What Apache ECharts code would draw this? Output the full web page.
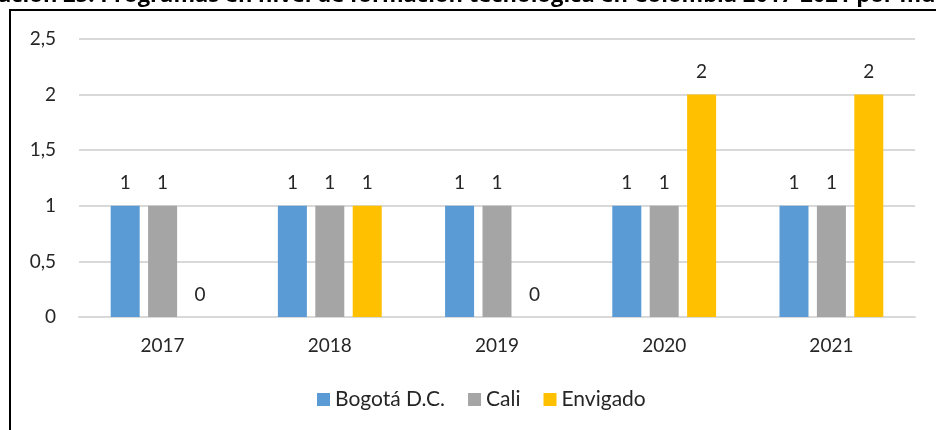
<!DOCTYPE html>
<html>
<head>
<meta charset="utf-8">
<script src="https://cdn.jsdelivr.net/npm/echarts@6/dist/echarts.min.js"></script>
<style>
html, body { margin: 0; padding: 0; background: #ffffff; }
#box { width: 936px; height: 430px; }
</style>
</head>
<body>
<div id="box"></div>
<script>
// datos
const years = ["2017", "2018", "2019", "2020", "2021"]
const bogota = [1, 1, 1, 1, 1]
const cali = [1, 1, 1, 1, 1]
const envigado = [0, 1, 0, 2, 2]
const seriesNames = ["Bogotá D.C.", "Cali", "Envigado"]
const titleText = "ación 25. Programas en nivel de formación tecnológica en Colombia 2017-2021 por mu"

const font = "Lato, 'Open Sans', sans-serif"

function barSeries(name, data) {
	return {
		name: name,
		type: "bar",
		data: data,
		barWidth: 29,
		barGap: "29%",
		label: {
			show: true,
			position: "top",
			distance: 13,
			fontSize: 19,
			fontFamily: font,
			color: "#262626",
		},
	}
}

let myCharts = echarts.init(document.getElementById("box"))
let option = {
	animation: false,
	color: ["#5B9BD5", "#A5A5A5", "#FFC000"],
	graphic: [
		{
			type: "text",
			left: -2,
			top: -15,
			style: {
				text: titleText,
				font: "bold 22px 'Open Sans', sans-serif",
				fill: "#000000",
			},
		},
		{
			type: "rect",
			shape: { x: 10, y: 10, width: 940, height: 440 },
			style: { fill: "none", stroke: "#000000", lineWidth: 2 },
		},
	],
	legend: {
		left: 312,
		top: 384,
		itemWidth: 13,
		itemHeight: 13,
		itemGap: 23,
		icon: "rect",
		textStyle: {
			fontSize: 21,
			fontFamily: font,
			color: "#262626",
		},
		data: seriesNames,
	},
	grid: {
		left: 79,
		right: 21,
		top: 39,
		bottom: 113,
	},
	xAxis: {
		type: "category",
		data: years,
		axisLine: { show: true, lineStyle: { color: "#D9D9D9", width: 2 } },
		axisTick: { show: false },
		axisLabel: {
			fontSize: 19,
			fontFamily: font,
			color: "#262626",
			margin: 19,
		},
	},
	yAxis: {
		type: "value",
		min: 0,
		max: 2.5,
		interval: 0.5,
		axisLine: { show: false },
		axisTick: { show: false },
		splitLine: { lineStyle: { color: "#D9D9D9", width: 2 } },
		axisLabel: {
			fontSize: 19,
			fontFamily: font,
			color: "#262626",
			margin: 23,
			formatter: (v) => String(v).replace(".", ","),
		},
	},
	series: [
		barSeries(seriesNames[0], bogota),
		barSeries(seriesNames[1], cali),
		barSeries(seriesNames[2], envigado),
	],
}
myCharts.setOption(option)
</script>
</body>
</html>
